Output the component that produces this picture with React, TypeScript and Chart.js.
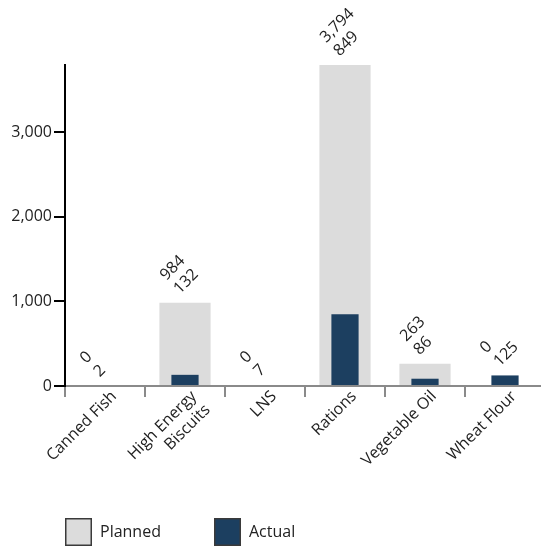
import React, { useEffect, useRef } from 'react';
import { Chart, registerables } from 'chart.js';

Chart.register(...registerables);

const categories: (string | string[])[] = ['Canned Fish', ['High Energy', 'Biscuits'], 'LNS', 'Rations', 'Vegetable Oil', 'Wheat Flour'];
const planned = [0, 984, 0, 3794, 263, 0];
const actual = [2, 132, 7, 849, 86, 125];
const yTicks = [0, 1000, 2000, 3000];
const yMax = 3794;
const seriesNames = ['Planned', 'Actual'];
const seriesColors = ['#dcdcdc', '#1c3f60'];

const FONT = '"Open Sans", sans-serif';
const TEXT = '#222222';
const fmt = (v: number) => Number(v).toLocaleString('en-US');

const valueLabels = {
  id: 'valueLabels',
  afterDatasetsDraw(chart: any) {
    const ctx = chart.ctx;
    const m0 = chart.getDatasetMeta(0);
    const m1 = chart.getDatasetMeta(1);
    ctx.save();
    ctx.font = `16px ${FONT}`;
    ctx.fillStyle = TEXT;
    ctx.textAlign = 'left';
    ctx.textBaseline = 'middle';
    planned.forEach((p, i) => {
      const x = m0.data[i].x;
      const top = Math.min(m0.data[i].y, m1.data[i].y);
      ctx.save();
      ctx.translate(x - 22, top - 25);
      ctx.rotate(-Math.PI / 4);
      ctx.fillText(fmt(p), 0, 0);
      ctx.fillText(fmt(actual[i]), 0, 19);
      ctx.restore();
    });
    ctx.restore();
  },
};

const customLegend = {
  id: 'customLegend',
  afterDraw(chart: any) {
    const ctx = chart.ctx;
    const left = chart.chartArea.left;
    const boxTop = chart.height - 29;
    ctx.save();
    chart.data.datasets.forEach((ds: any, i: number) => {
      const x = left + i * 149;
      ctx.fillStyle = ds.backgroundColor;
      ctx.fillRect(x, boxTop, 27, 28);
      ctx.strokeStyle = '#3a3a3a';
      ctx.lineWidth = 1.5;
      ctx.strokeRect(x + 0.75, boxTop + 0.75, 25.5, 26.5);
      ctx.fillStyle = TEXT;
      ctx.font = `16px ${FONT}`;
      ctx.textAlign = 'left';
      ctx.textBaseline = 'middle';
      ctx.fillText(ds.label, x + 35, boxTop + 14);
    });
    ctx.restore();
  },
};

export default function App() {
  const ref = useRef<HTMLCanvasElement | null>(null);

  useEffect(() => {
    if (!ref.current) return;
    const chart = new Chart(ref.current, {
      type: 'bar',
      data: {
        labels: categories as any,
        datasets: [
          {
            label: seriesNames[0],
            data: planned,
            backgroundColor: seriesColors[0],
            grouped: false,
            barPercentage: 0.64,
            categoryPercentage: 1,
            order: 1,
          } as any,
          {
            label: seriesNames[1],
            data: actual,
            backgroundColor: seriesColors[1],
            grouped: false,
            barPercentage: 0.34,
            categoryPercentage: 1,
            order: 0,
          } as any,
        ],
      },
      options: {
        responsive: false,
        animation: false,
        layout: { padding: { left: 0, top: 57, right: 8, bottom: 0 } },
        plugins: {
          legend: { display: false },
          tooltip: { enabled: false },
        },
        scales: {
          x: {
            grid: {
              display: true,
              drawOnChartArea: false,
              offset: true,
              color: '#8a8a8a',
              lineWidth: 2,
              tickLength: 11,
              z: 1,
            },
            border: { color: '#8a8a8a', width: 2, z: 1 },
            ticks: {
              font: { family: FONT, size: 16 },
              color: TEXT,
              minRotation: 45,
              maxRotation: 45,
              autoSkip: false,
              padding: -10,
              labelOffset: 9,
              z: 1,
            },
            afterFit: (s: any) => {
              s.height = 161;
            },
          },
          y: {
            min: 0,
            max: yMax,
            afterBuildTicks: (s: any) => {
              s.ticks = yTicks.map((v) => ({ value: v }));
            },
            grid: {
              drawOnChartArea: false,
              color: '#000000',
              lineWidth: 2,
              tickLength: 11,
              z: 2,
            },
            border: { color: '#000000', width: 2, z: 2 },
            ticks: {
              font: { family: FONT, size: 16 },
              color: TEXT,
              padding: 2,
              callback: (v: any) => fmt(v),
              z: 2,
            },
            afterFit: (s: any) => {
              s.width = 57;
            },
          },
        },
      } as any,
      plugins: [valueLabels, customLegend],
    });
    return () => chart.destroy();
  }, []);

  return (
    <div style={{ position: 'fixed', left: 8, top: 8, width: 533, height: 539, overflow: 'hidden' }}>
      <canvas ref={ref} width={545} height={539} style={{ display: 'block', width: 545, height: 539 }} />
    </div>
  );
}
